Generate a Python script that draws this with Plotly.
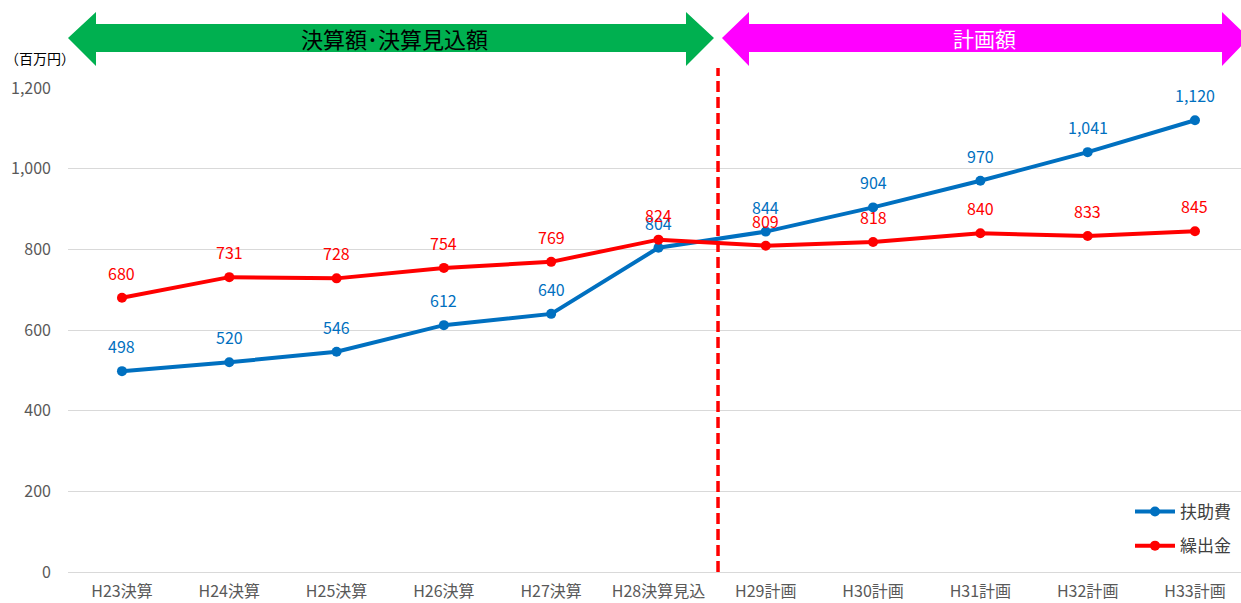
import plotly.graph_objects as go

categories = ["H23決算", "H24決算", "H25決算", "H26決算", "H27決算", "H28決算見込",
              "H29計画", "H30計画", "H31計画", "H32計画", "H33計画"]
fujohi = [498, 520, 546, 612, 640, 804, 844, 904, 970, 1041, 1120]
kuridashi = [680, 731, 728, 754, 769, 824, 809, 818, 840, 833, 845]
y_ticks = [0, 200, 400, 600, 800, 1000, 1200]

BLUE = "#0070C0"
RED = "#FF0000"
FONT = "Noto Sans CJK JP"

W, H = 1241, 603
L, R, T, B = 68, 0, 88, 31
PW = W - L - R
PH = H - T - B


def px(x):
    return (x - L) / PW


def py(y):
    return (H - B - y) / PH


xs = list(range(len(categories)))
fig = go.Figure()
fig.add_trace(go.Scatter(x=xs, y=fujohi, mode="lines+markers", name="扶助費", legendgroup="a",
                         line=dict(color=BLUE, width=4), marker=dict(size=10, color=BLUE)))
fig.add_trace(go.Scatter(x=xs, y=kuridashi, mode="lines+markers", name="繰出金", legendgroup="b",
                         line=dict(color=RED, width=4), marker=dict(size=10, color=RED)))

annotations = []
for xi, v in zip(xs, fujohi):
    annotations.append(dict(x=xi, y=v, text=f"{v:,}", showarrow=False, yshift=25,
                            font=dict(color=BLUE, size=16, family=FONT)))
for xi, v in zip(xs, kuridashi):
    annotations.append(dict(x=xi, y=v, text=f"{v:,}", showarrow=False, yshift=25,
                            font=dict(color=RED, size=16, family=FONT)))

annotations.append(dict(xref="paper", yref="paper", x=px(3), y=py(58), xanchor="left",
                        yanchor="middle", text="（百万円）", showarrow=False,
                        font=dict(color="#000000", size=14, family=FONT)))
annotations.append(dict(xref="paper", yref="paper", x=px(394), y=py(38), xanchor="center",
                        yanchor="middle", text="決算額･決算見込額", showarrow=False,
                        font=dict(color="#000000", size=22, family=FONT)))
annotations.append(dict(xref="paper", yref="paper", x=px(985), y=py(38), xanchor="center",
                        yanchor="middle", text="計画額", showarrow=False,
                        font=dict(color="#FFFFFF", size=21, family=FONT)))


def arrow_path(x0, x1, hl):
    pts = [(x0, 38), (x0 + hl, 12), (x0 + hl, 24), (x1 - hl, 24), (x1 - hl, 12), (x1, 38),
           (x1 - hl, 66), (x1 - hl, 52), (x0 + hl, 52), (x0 + hl, 66)]
    s = "M " + " L ".join(f"{px(a):.5f},{py(b):.5f}" for a, b in pts) + " Z"
    return s


shapes = [
    dict(type="path", xref="paper", yref="paper", path=arrow_path(68, 714, 28),
         fillcolor="#00B050", line=dict(width=0), layer="above"),
    dict(type="path", xref="paper", yref="paper", path=arrow_path(722, 1249, 27),
         fillcolor="#FF00FF", line=dict(width=0), layer="above"),
    dict(type="line", xref="x", yref="paper", x0=5.555, x1=5.555, y0=0, y1=py(68),
         line=dict(color=RED, width=3.5, dash="11px,5px")),
]

fig.update_layout(
    width=W, height=H,
    margin=dict(l=L, r=R, t=T, b=B, pad=0, autoexpand=False),
    paper_bgcolor="white", plot_bgcolor="white",
    font=dict(family=FONT, size=16, color="#595959"),
    showlegend=True,
    legend=dict(x=px(1236), y=py(564), xanchor="right", yanchor="bottom",
                bgcolor="rgba(0,0,0,0)", font=dict(size=17, color="#404040", family=FONT),
                itemwidth=40, tracegroupgap=9),
    annotations=annotations,
    shapes=shapes,
)
fig.update_xaxes(range=[-0.503, -0.503 + PW / 107.3], tickmode="array", tickvals=xs,
                 ticktext=categories, showgrid=False, zeroline=False, showline=False,
                 automargin=False,
                 ticks="", ticklabelstandoff=8, tickfont=dict(size=16, color="#595959"))
fig.update_yaxes(range=[0, 1200], tickmode="array", tickvals=y_ticks,
                 ticktext=[f"{v:,}" for v in y_ticks], showgrid=True, gridcolor="#D9D9D9",
                 gridwidth=1, zeroline=True, zerolinecolor="#D9D9D9", zerolinewidth=1,
                 showline=False, ticks="", ticklabelstandoff=16, automargin=False,
                 tickfont=dict(size=16, color="#595959"))

fig.write_html("out.html", config={"displayModeBar": False},
               post_script="document.body.style.margin='0';document.body.style.overflow='hidden';")
